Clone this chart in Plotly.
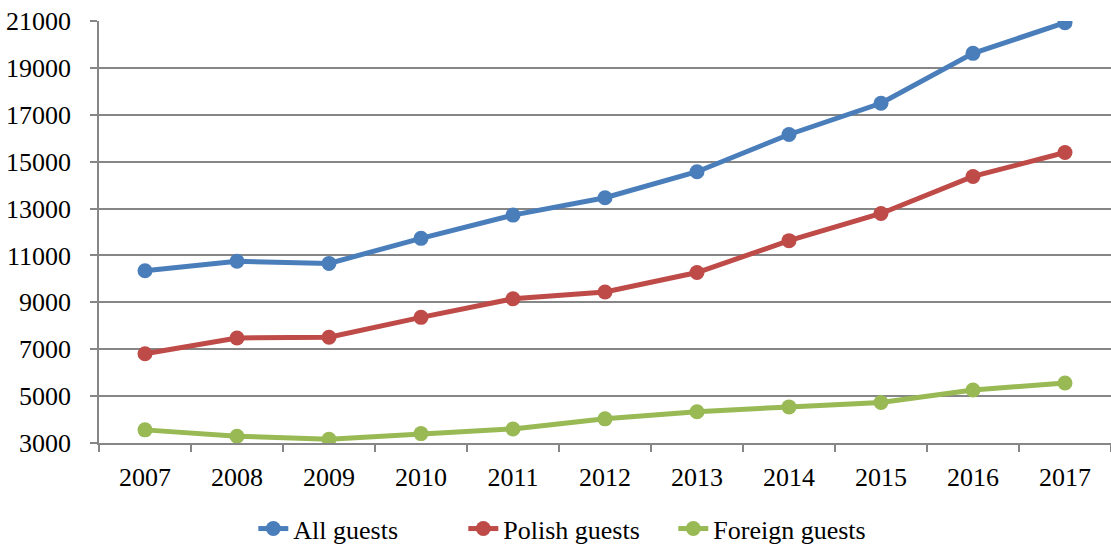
import plotly.graph_objects as go

years = ["2007", "2008", "2009", "2010", "2011", "2012", "2013", "2014", "2015", "2016", "2017"]
all_guests = [10350, 10750, 10660, 11730, 12720, 13460, 14570, 16160, 17490, 19620, 20930]
polish_guests = [6810, 7480, 7510, 8360, 9150, 9440, 10270, 11630, 12790, 14370, 15390]
foreign_guests = [3560, 3290, 3160, 3400, 3600, 4030, 4330, 4540, 4730, 5260, 5560]
y_ticks = [3000, 5000, 7000, 9000, 11000, 13000, 15000, 17000, 19000, 21000]
y_tick_labels = [str(v) for v in y_ticks]

series = [
    ("All guests", all_guests, "#4A7EBB"),
    ("Polish guests", polish_guests, "#BE4B48"),
    ("Foreign guests", foreign_guests, "#98B954"),
]

fig = go.Figure()
for name, vals, color in series:
    fig.add_trace(go.Scatter(
        x=years, y=vals, name=name, mode="lines+markers",
        line=dict(color=color, width=5),
        marker=dict(color=color, size=15),
    ))

font_family = "Liberation Serif, Times New Roman, serif"
fig.update_layout(
    width=1111, height=545,
    margin=dict(l=99, r=0, t=21, b=102, autoexpand=False),
    paper_bgcolor="white", plot_bgcolor="white",
    font=dict(family=font_family, size=26, color="black"),
    showlegend=True,
    legend=dict(orientation="h", xref="container", yref="container",
                x=0.228, xanchor="left", y=0.03, yanchor="middle",
                entrywidth=165, entrywidthmode="pixels",
                font=dict(family=font_family, size=26, color="black"), tracegroupgap=0),
)
fig.update_xaxes(
    type="category", range=[-0.5, 10.5], automargin=False,
    showline=True, linecolor="#868686", linewidth=1.5,
    ticks="outside", ticklen=7, tickcolor="#868686", tickwidth=1.5,
    tickson="boundaries", showgrid=False,
    ticklabelstandoff=10,
    tickfont=dict(family=font_family, size=26, color="black"),
)
fig.update_yaxes(
    range=[3000, 21000], tickvals=y_ticks, ticktext=y_tick_labels, automargin=False,
    showline=True, linecolor="#868686", linewidth=1.5,
    ticks="outside", ticklen=7, tickcolor="#868686", tickwidth=1.5,
    showgrid=True, gridcolor="#868686", gridwidth=1.5, zeroline=False,
    ticklabelstandoff=14,
    tickfont=dict(family=font_family, size=26, color="black"),
)

fig.write_html("out.html")
